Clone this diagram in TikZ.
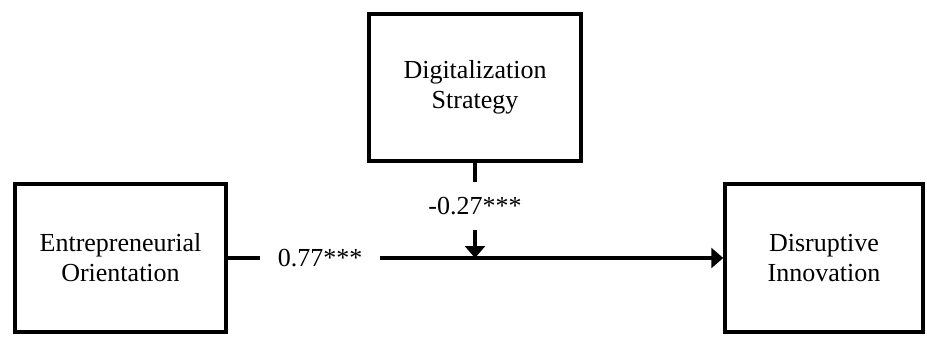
\documentclass[tikz,border=0pt]{standalone}
\usepackage{fontspec}
\setmainfont{Liberation Serif}
\usetikzlibrary{arrows.meta, positioning, calc}

\begin{document}
\begin{tikzpicture}[x=0.5pt, y=-0.5pt,
  varbox/.style={draw, line width=1.75pt, align=center, inner sep=0pt,
    font=\fontsize{13}{15}\selectfont, minimum height=74pt},
  coef/.style={font=\fontsize{13}{15}\selectfont, inner sep=0pt},
  link/.style={line width=1.75pt},
  effect/.style={link, -{Triangle[length=6pt, width=10pt]}}]
  \useasboundingbox (0,0) rectangle (927,337);

  % Moderator
  \node[varbox, minimum width=106pt, minimum height=73.5pt] (ds) at (475,87.5)
    {Digitalization\\Strategy};

  % Independent and dependent variables
  \node[varbox, minimum width=105.5pt] (eo) at (120.5,258)
    {Entrepreneurial\\Orientation};
  \node[varbox, minimum width=99pt] (di) at (824,258)
    {Disruptive\\Innovation};

  % Path coefficients
  \node[coef, minimum width=60pt, minimum height=12pt] (beta) at (320,258) {0.77***};
  \node[coef, minimum width=46pt, minimum height=24pt] (gamma) at (475,206) {-0.27***};

  % Main effect
  \draw[link] (eo.east) -- (beta.west);
  \draw[effect] (beta.east) -- (di.west);

  % Moderating effect
  \coordinate (hit) at (gamma |- eo.east);
  \draw[link] (ds.south) -- (gamma.north);
  \draw[effect] (gamma.south) -- (hit);
\end{tikzpicture}
\end{document}
